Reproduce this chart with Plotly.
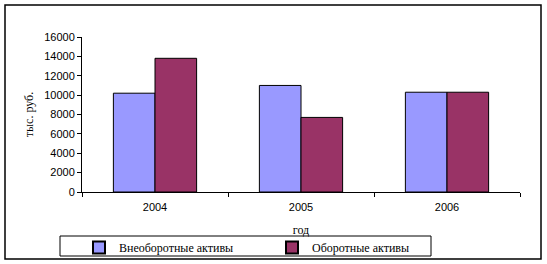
import plotly.graph_objects as go

years = ["2004", "2005", "2006"]
non_current = [10200, 11000, 10300]
current = [13800, 7700, 10300]
series_names = ["Внеоборотные активы", "Оборотные активы"]
y_ticks = [0, 2000, 4000, 6000, 8000, 10000, 12000, 14000, 16000]

W, H = 547, 264
L, R, T, B = 82, 520, 37, 192

def px(x):
    return (x - L) / (R - L)

def py(y):
    return (B - y) / (B - T)

fig = go.Figure()
fig.add_bar(x=years, y=non_current, name=series_names[0],
            marker=dict(color="#9999FF", line=dict(color="black", width=1)))
fig.add_bar(x=years, y=current, name=series_names[1],
            marker=dict(color="#993366", line=dict(color="black", width=1)))

fig.update_layout(
    width=W, height=H,
    margin=dict(l=L, r=W - R, t=T, b=H - B, autoexpand=False),
    paper_bgcolor="white", plot_bgcolor="white",
    barmode="group", bargap=0.43, bargroupgap=0,
    showlegend=True,
    legend=dict(orientation="h", x=px(79), y=py(233), xanchor="left", yanchor="top",
                entrywidth=148, entrywidthmode="pixels",
                font=dict(family="Liberation Serif", size=12, color="black"),
                bgcolor="rgba(0,0,0,0)", borderwidth=0,
                itemsizing="constant", tracegroupgap=0),
    font=dict(family="Liberation Sans", size=11, color="black"),
    xaxis=dict(showline=True, linecolor="black", linewidth=1,
               ticks="outside", ticklen=4, tickcolor="black",
               tickson="boundaries", showgrid=False, ticklabelstandoff=5,
               tickfont=dict(family="Liberation Sans", size=11),
               title=dict(text="год", standoff=13,
                          font=dict(family="Liberation Serif", size=12))),
    yaxis=dict(range=[0, 16000], tickvals=y_ticks, tickformat="d",
               showline=True, linecolor="black",
               linewidth=1, ticks="outside", ticklen=4, tickcolor="black",
               showgrid=False, zeroline=False,
               tickfont=dict(family="Liberation Sans", size=11),
               title=dict(text="тыс. руб.", standoff=8,
                          font=dict(family="Liberation Serif", size=12))),
    shapes=[
        dict(type="rect", xref="paper", yref="paper",
             x0=px(5), x1=px(541), y0=py(259), y1=py(5),
             line=dict(color="black", width=1.5)),
        dict(type="rect", xref="paper", yref="paper",
             x0=px(60), x1=px(431), y0=py(256), y1=py(236),
             line=dict(color="black", width=1)),
    ],
)

fig.write_html("out.html")
